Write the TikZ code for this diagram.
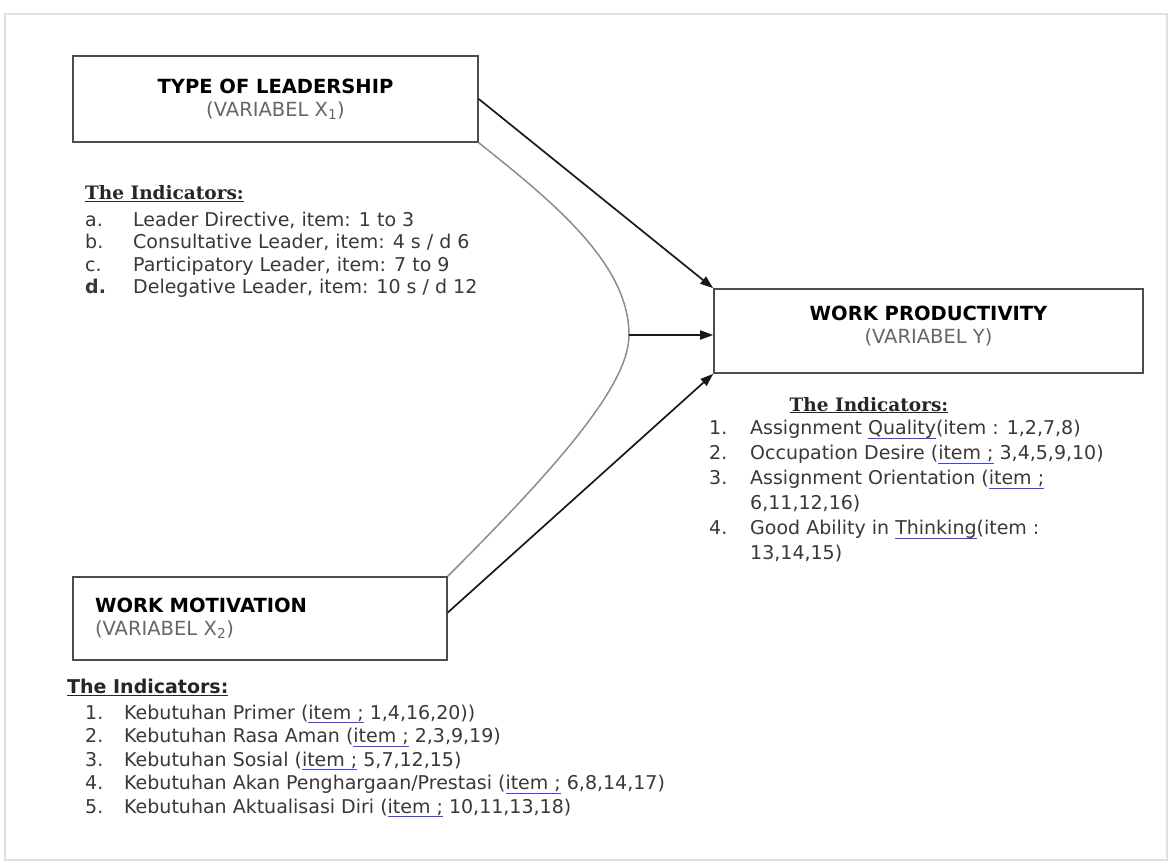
\documentclass[tikz,border=0pt]{standalone}
\usepackage{fontspec}
\setmainfont{DejaVu Sans}
\newfontfamily\headserif{DejaVu Serif}
\usetikzlibrary{arrows.meta,positioning}
\newcommand{\spell}[1]{\setbox0\hbox{#1}\rlap{\textcolor{blue!75}{\rule[-4pt]{\wd0}{1pt}}}\box0\relax}
\newcommand{\heading}[1]{\underline{\bfseries #1}}

\begin{document}
\begin{tikzpicture}[x=1pt, y=-1pt, >={Triangle[length=13pt,width=9pt]},
  every node/.style={text=black!78},
  varbox/.style={draw=black!70, line width=1.6pt, inner sep=0pt, font=\fontsize{19.5}{23}\selectfont},
  link/.style={draw=black!90, line width=1.7pt},
  curveline/.style={draw=black!45, line width=1.5pt},
  list/.style={anchor=north west, inner sep=0pt, align=left}]
\useasboundingbox (0,0) rectangle (1171,865);
% page frame
\draw[black!12, line width=2pt] (5,14) rectangle (1167,860);
% ---- the three variables
\node[varbox, minimum width=405pt, minimum height=86pt, align=center] (lead) at (275.5,99)
  {\textcolor{black}{\bfseries TYPE OF LEADERSHIP}\\ \textcolor{black!60}{(VARIABEL X\textsubscript{1})}};
\node[varbox, minimum width=429pt, minimum height=84pt, text depth=13pt, align=center] (prod) at (928.5,331)
  {\textcolor{black}{\bfseries WORK PRODUCTIVITY}\\ \textcolor{black!60}{(VARIABEL Y)}};
\node[varbox, minimum height=83pt, inner xsep=22pt, text width=330pt, align=left] (motiv) at (260,618.5)
  {\textcolor{black}{\bfseries WORK MOTIVATION}\\ \textcolor{black!60}{(VARIABEL X\textsubscript{2})}};
% ---- indicators
\node[list, font=\fontsize{19}{22.5}\selectfont] (indlead) at (85,184) {%
  \begin{tabular}{@{}p{48pt}@{}l@{}}
  \multicolumn{2}{@{}l@{}}{\fontsize{18.5}{20}\selectfont\headserif\textcolor{black!85}{\heading{The Indicators:}}}\\[4pt]
  a. & Leader Directive, item: 1 to 3\\
  b. & Consultative Leader, item: 4 s / d 6\\
  c. & Participatory Leader, item: 7 to 9\\
  \textbf{d.} & Delegative Leader, item: 10 s / d 12
  \end{tabular}};
\node[anchor=base, inner sep=0pt, font=\fontsize{18.5}{20}\selectfont\headserif] (indprod) at (869,411)
  {\textcolor{black!85}{\heading{The Indicators:}}};
\node[list, font=\fontsize{19}{25}\selectfont] (listprod) at (709,417) {%
  \begin{tabular}{@{}p{41pt}@{}l@{}}
  1. & Assignment \spell{Quality}(item : 1,2,7,8)\\
  2. & Occupation Desire (\spell{item ;} 3,4,5,9,10)\\
  3. & Assignment Orientation (\spell{item ;}\\
     & 6,11,12,16)\\
  4. & Good Ability in \spell{Thinking}(item :\\
     & 13,14,15)
  \end{tabular}};
\node[list, font=\fontsize{19}{23.5}\selectfont] (indmotiv) at (67,677) {%
  \begin{tabular}{@{}p{57pt}@{}l@{}}
  \multicolumn{2}{@{}l@{}}{\textcolor{black!85}{\heading{The Indicators:}}}\\[2pt]
  \hspace{18pt}1. & Kebutuhan Primer (\spell{item ;} 1,4,16,20))\\
  \hspace{18pt}2. & Kebutuhan Rasa Aman (\spell{item ;} 2,3,9,19)\\
  \hspace{18pt}3. & Kebutuhan Sosial (\spell{item ;} 5,7,12,15)\\
  \hspace{18pt}4. & Kebutuhan Akan Penghargaan/Prestasi (\spell{item ;} 6,8,14,17)\\
  \hspace{18pt}5. & Kebutuhan Aktualisasi Diri (\spell{item ;} 10,11,13,18)
  \end{tabular}};
% ---- connectors
\coordinate (apex) at (629,335);
\draw[curveline] (lead.south east) .. controls +(78,62) and +(0,-70) .. (apex)
  .. controls +(0,50) and +(110,-110) .. (motiv.north east);
\draw[link,->] (lead.east) -- (prod.north west);
\draw[link,->] (apex) -- (apex -| prod.west);
\draw[link,->] ([yshift=6pt]motiv.east) -- (prod.south west);
\end{tikzpicture}
\end{document}
